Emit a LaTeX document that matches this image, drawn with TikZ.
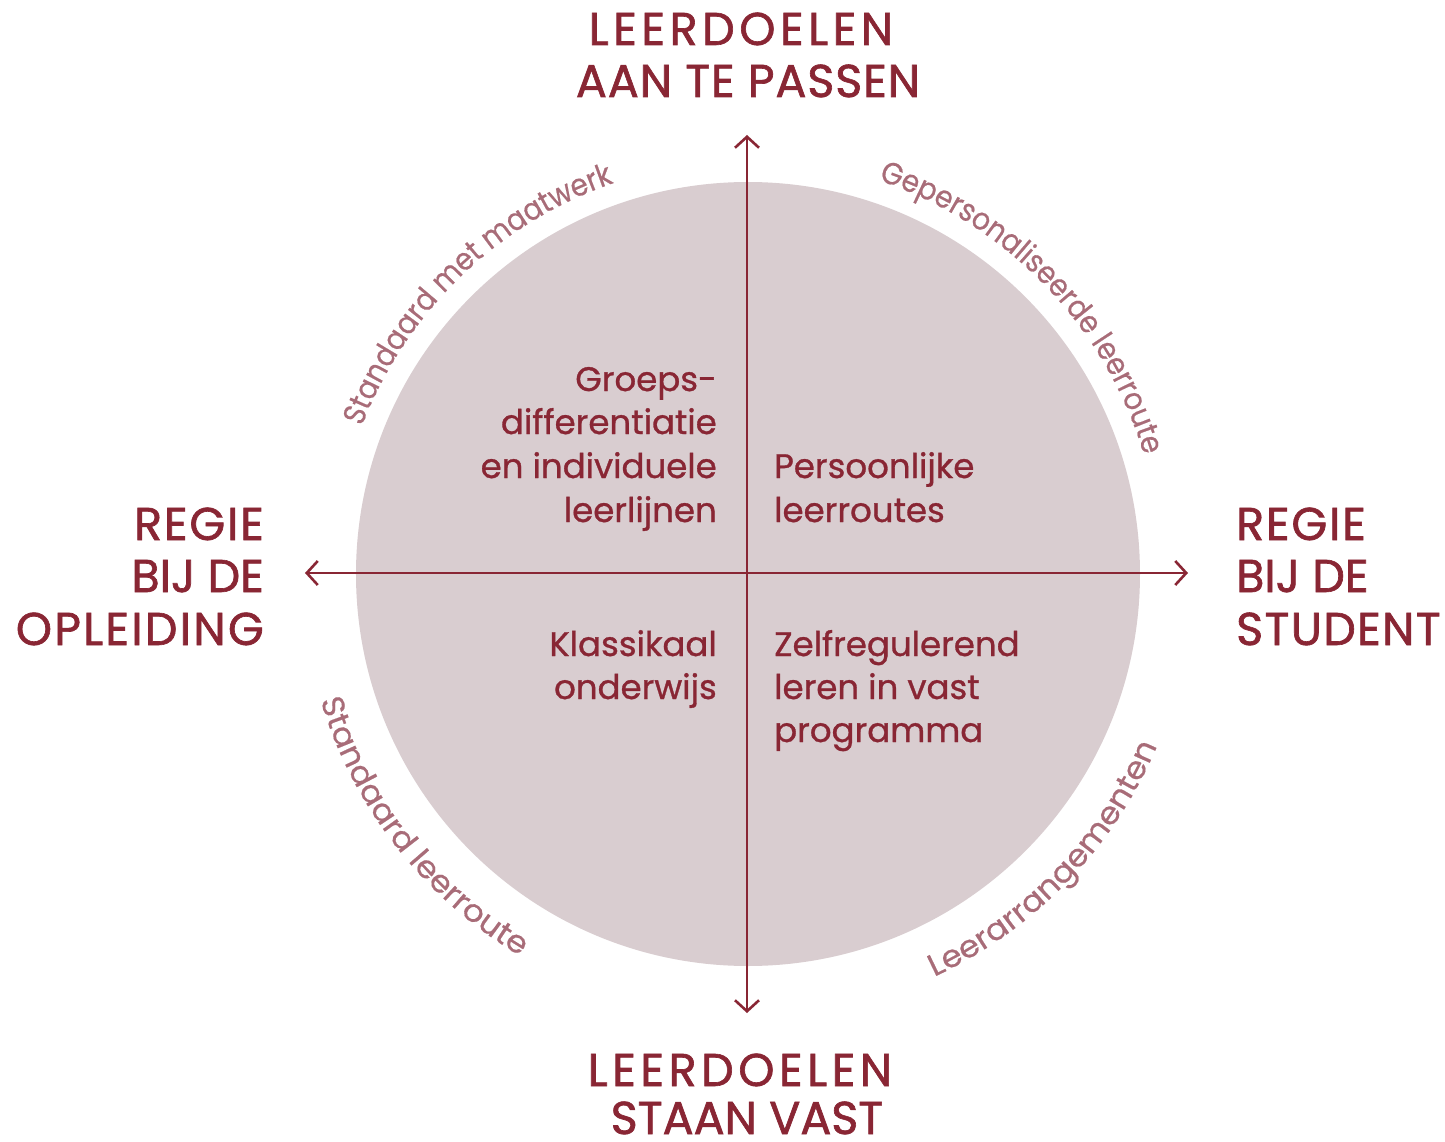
\documentclass[tikz,border=0pt]{standalone}
\usepackage{fontspec}
\setmainfont{Poppins}
\newfontfamily\headfont{Poppins}[FakeBold=1.4]
\newfontfamily\innerfont{Poppins}[FakeBold=0.9]
\newfontfamily\arctopfont{Poppins}[FakeStretch=0.9, FakeBold=0.5]
\newfontfamily\arcbotfont{Poppins}[FakeStretch=1.06, FakeBold=0.5]
\usetikzlibrary{arrows.meta,decorations.text}
\definecolor{wine}{RGB}{137,38,52}
\definecolor{disc}{RGB}{217,205,208}
\definecolor{rose}{RGB}{168,108,120}
\newcommand\curvetop{\arctopfont\fontsize{31}{31}\selectfont}
\newcommand\curvebot{\arcbotfont\fontsize{31}{31}\selectfont}
\begin{document}
\begin{tikzpicture}[x=1pt,y=1pt,
  head/.style={text=wine, font=\headfont\fontsize{46}{52}\selectfont\addfontfeature{LetterSpace=#1}, inner sep=0pt},
  quad/.style={text=wine, font=\innerfont\fontsize{34}{44}\selectfont, inner sep=0pt},
  axisline/.style={draw=wine, line width=2.6pt,
    {Straight Barb[length=11pt,width=24pt]}-{Straight Barb[length=11pt,width=24pt]}},
  arctext/.style={decorate, decoration={text along path, text align=center,
    text color=rose, text={#1}}}]
\useasboundingbox (-747,-568) rectangle (698,573);
% disc
\node[circle, fill=disc, minimum size=784pt, inner sep=0pt] (disc) at (1,-1) {};
% axes
\coordinate (ytop) at (0,438);
\coordinate (ybot) at (0,-440);
\coordinate (xleft) at (-442,0);
\coordinate (xright) at (441,0);
\draw[axisline] (ybot) -- (ytop);
\draw[axisline] (xleft) -- (xright);
% curved labels
\path[arctext={|\curvetop|Standaard met maatwerk}] (178:412) arc[start angle=178, end angle=90, radius=412];
\path[arctext={|\curvetop|Gepersonaliseerde leerroute}] (88:414) arc[start angle=88, end angle=0, radius=414];
\path[arctext={|\curvebot|Standaard leerroute}] (174:445) arc[start angle=174, end angle=262, radius=445];
\path[arctext={|\curvebot|Leerarrangementen}] (272:445) arc[start angle=272, end angle=360, radius=445];
% axis labels
\node[head=10, anchor=base] (t1) at (-6,528) {LEERDOELEN};
\node[head=2, anchor=base] (t2) at (1,476) {AAN TE PASSEN};
\node[head=10, anchor=base] (b1) at (-7,-513) {LEERDOELEN};
\node[head=0, anchor=base] (b2) at (0,-561) {STAAN VAST};
\node[head=4, anchor=base east] (l1) at (-483,33) {REGIE};
\node[head=0, anchor=base east] (l2) at (-483,-19) {BIJ DE};
\node[head=5, anchor=base east] (l3) at (-483,-72) {OPLEIDING};
\node[head=4, anchor=base west] (r1) at (489,33) {REGIE};
\node[head=0, anchor=base west] (r2) at (489,-19) {BIJ DE};
\node[head=3, anchor=base west] (r3) at (489,-72) {STUDENT};
% quadrant texts
\node[quad, anchor=base east] (q1a) at (-30,182) {Groeps-};
\node[quad, anchor=base east] (q1b) at (-30,139) {differentiatie};
\node[quad, anchor=base east] (q1c) at (-30,95) {en individuele};
\node[quad, anchor=base east] (q1d) at (-30,51) {leerlijnen};
\node[quad, anchor=base west] (q2a) at (27,95) {Persoonlijke};
\node[quad, anchor=base west] (q2b) at (27,51) {leerroutes};
\node[quad, anchor=base east] (q3a) at (-30,-83) {Klassikaal};
\node[quad, anchor=base east] (q3b) at (-30,-126) {onderwijs};
\node[quad, anchor=base west] (q4a) at (27,-83) {Zelfregulerend};
\node[quad, anchor=base west] (q4b) at (27,-126) {leren in vast};
\node[quad, anchor=base west] (q4c) at (27,-169) {programma};
\end{tikzpicture}
\end{document}
